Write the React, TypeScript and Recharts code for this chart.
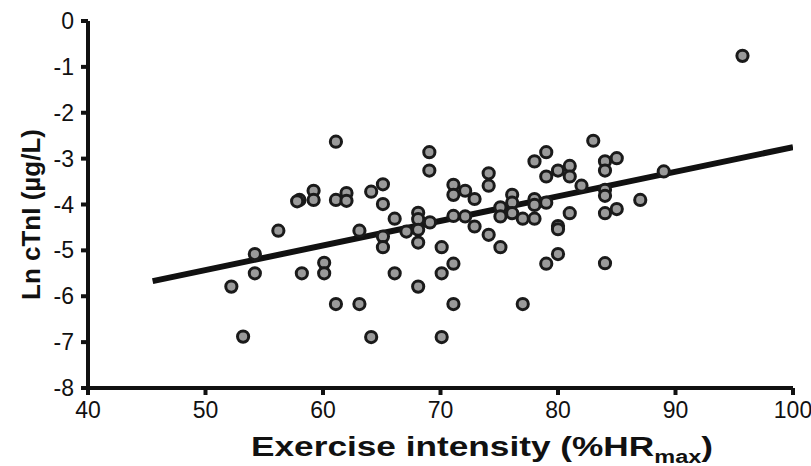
import React from "react";
import { ScatterChart, Scatter, XAxis, YAxis } from "recharts";

// exercise intensity (%HRmax) for each subject
const intensity = [
  52.2, 53.2, 54.2, 54.2, 56.2, 58.0, 57.8, 58.2, 59.2, 59.2,
  60.1, 60.1, 61.1, 61.1, 61.1, 62.0, 62.0, 63.1, 63.1, 64.1,
  64.1, 65.1, 65.1, 65.1, 65.1, 66.1, 66.1, 67.1, 68.1, 68.1,
  68.1, 68.1, 68.1, 69.05, 69.05, 69.1, 70.1, 70.1, 70.1, 71.1,
  71.1, 71.1, 71.1, 71.1, 72.1, 72.1, 72.9, 72.9, 74.1, 74.1,
  74.1, 75.1, 75.1, 75.1, 76.1, 76.1, 76.1, 77.0, 77.0, 78.0,
  78.0, 78.0, 78.0, 79.0, 79.0, 79.0, 79.0, 80.0, 80.0, 80.0,
  80.0, 81.0, 81.0, 81.0, 82.0, 83.0, 84.0, 84.0, 84.0, 84.0,
  84.0, 84.0, 85.0, 85.0, 87.0, 89.0, 95.7,
];

// Ln cTnI (µg/L) for each subject
const lnCtni = [
  -5.79, -6.88, -5.08, -5.5, -4.57, -3.9, -3.93, -5.5, -3.7, -3.9,
  -5.27, -5.5, -2.63, -3.9, -6.17, -3.75, -3.92, -4.57, -6.17, -3.72,
  -6.89, -3.56, -3.99, -4.7, -4.93, -4.31, -5.5, -4.59, -4.18, -4.32,
  -4.55, -4.83, -5.79, -2.86, -3.26, -4.39, -4.93, -5.5, -6.89, -3.57,
  -3.79, -4.25, -5.29, -6.17, -3.7, -4.26, -3.88, -4.48, -3.32, -3.59,
  -4.66, -4.06, -4.26, -4.93, -3.79, -3.96, -4.19, -4.31, -6.17, -3.06,
  -3.88, -4.01, -4.31, -2.86, -3.39, -3.96, -5.29, -3.26, -4.47, -4.54,
  -5.08, -3.16, -3.39, -4.19, -3.59, -2.61, -3.06, -3.26, -3.68, -3.81,
  -4.19, -5.28, -2.99, -4.1, -3.9, -3.28, -0.76,
];

// regression line end points
const fitX = [45.5, 100];
const fitY = [-5.67, -2.75];

const xTicks = [40, 50, 60, 70, 80, 90, 100];
const yTicks = [-8, -7, -6, -5, -4, -3, -2, -1, 0];

const points = intensity.map((x, i) => ({ x, y: lnCtni[i] }));
const fitLine = fitX.map((x, i) => ({ x, y: fitY[i] }));

const FONT = "'Liberation Sans', Arial, sans-serif";
const INK = "#111";
const GAP = 10; // tickMargin; with tickSize 0 the axis sits GAP px from the tick position

const Dot = (props: any) => {
  const { cx, cy } = props;
  if (cx == null || cy == null) return null;
  return <circle cx={cx} cy={cy} r={5.6} fill="#9a9a9a" stroke="#1a1a1a" strokeWidth={3} />;
};

const XTick = (props: any) => {
  const { x, y, payload } = props;
  const axisY = y - GAP;
  return (
    <g>
      <line x1={x} y1={axisY} x2={x} y2={axisY + 7} stroke={INK} strokeWidth={4} />
      <text x={x} y={axisY + 30} textAnchor="middle" fontFamily={FONT} fontSize={23} fill={INK}>
        {payload.value}
      </text>
    </g>
  );
};

const YTick = (props: any) => {
  const { x, y, payload } = props;
  const axisX = x + GAP;
  return (
    <g>
      <line x1={axisX - 7} y1={y} x2={axisX} y2={y} stroke={INK} strokeWidth={4} />
      <text x={axisX - 14} y={y + 8} textAnchor="end" fontFamily={FONT} fontSize={23} fill={INK}>
        {payload.value}
      </text>
    </g>
  );
};

const XTitle = (props: any) => {
  const vb = props.viewBox;
  return (
    <text
      x={vb.x + 163}
      y={vb.y + 68}
      textLength={462}
      lengthAdjust="spacingAndGlyphs"
      fontFamily={FONT}
      fontWeight="bold"
      fontSize={27}
      fill={INK}
    >
      Exercise intensity (%HR
      <tspan fontSize={18} dy={7}>max</tspan>
      <tspan dy={-7}>)</tspan>
    </text>
  );
};

const YTitle = (props: any) => {
  const vb = props.viewBox;
  const cy = vb.y + vb.height / 2 + 10;
  const x = 40;
  return (
    <text
      x={x}
      y={cy}
      transform={`rotate(-90, ${x}, ${cy})`}
      textAnchor="middle"
      fontFamily={FONT}
      fontWeight="bold"
      fontSize={26}
      fill={INK}
    >
      Ln cTnI (µg/L)
    </text>
  );
};

export default function App() {
  return (
    <div style={{ position: "absolute", left: 0, top: 0, background: "#fff" }}>
      <ScatterChart width={811} height={466} margin={{ top: 21, right: 18, bottom: 38, left: 48 }}>
        <XAxis
          type="number"
          dataKey="x"
          domain={[40, 100]}
          ticks={xTicks}
          allowDataOverflow
          height={40}
          tickSize={0}
          tickMargin={GAP}
          tickLine={false}
          axisLine={{ stroke: INK, strokeWidth: 4 }}
          tick={(p: any) => <XTick {...p} />}
          label={<XTitle />}
        />
        <YAxis
          type="number"
          dataKey="y"
          domain={[-8, 0]}
          ticks={yTicks}
          allowDataOverflow
          width={40}
          tickSize={0}
          tickMargin={GAP}
          tickLine={false}
          axisLine={{ stroke: INK, strokeWidth: 4 }}
          tick={(p: any) => <YTick {...p} />}
          label={<YTitle />}
        />
        <Scatter
          data={fitLine}
          line={{ stroke: INK, strokeWidth: 6 }}
          shape={() => null}
          isAnimationActive={false}
        />
        <Scatter data={points} shape={<Dot />} isAnimationActive={false} />
      </ScatterChart>
    </div>
  );
}
